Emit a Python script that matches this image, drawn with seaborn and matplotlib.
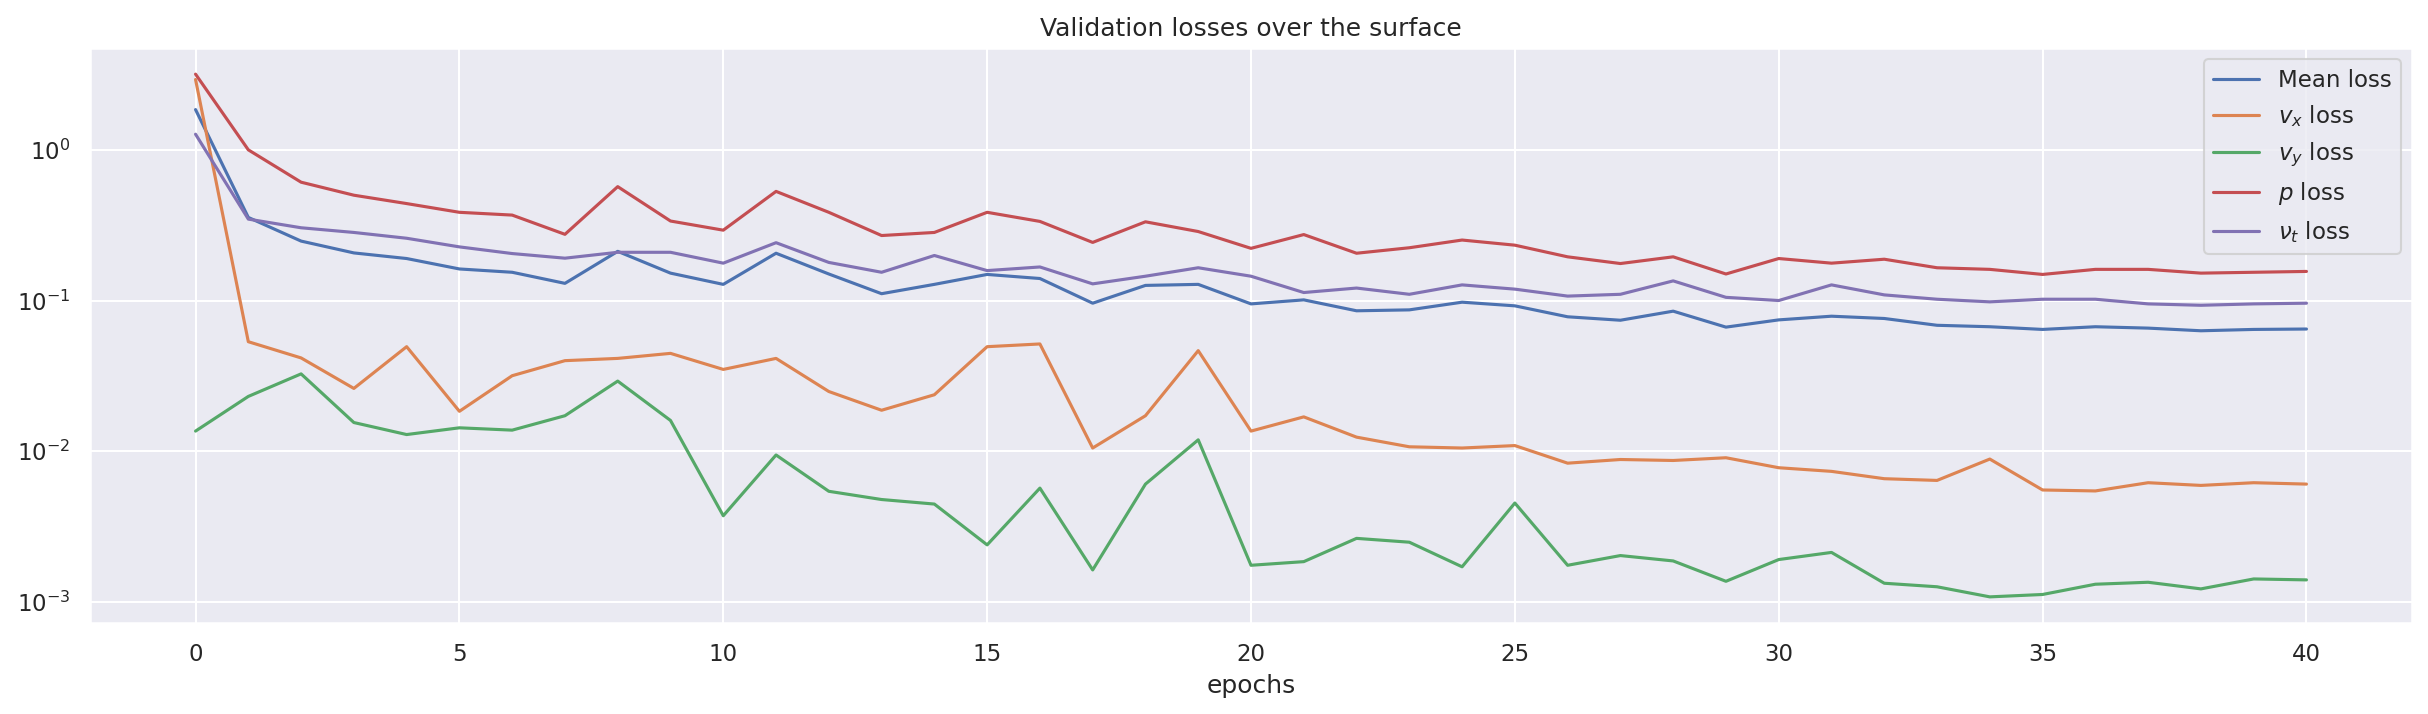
import numpy as np
import pandas as pd
import matplotlib
matplotlib.use("Agg")
import matplotlib.pyplot as plt
import seaborn as sns

epochs = list(range(41))

mean_loss = [1.85, 0.356, 0.248, 0.207, 0.190, 0.162, 0.154, 0.130, 0.212, 0.152,
             0.128, 0.206, 0.150, 0.111, 0.128, 0.149, 0.140, 0.096, 0.126, 0.128,
             0.095, 0.101, 0.0855, 0.0867, 0.0975, 0.0922, 0.078, 0.074, 0.085, 0.0666,
             0.0744, 0.0787, 0.0760, 0.0685, 0.067, 0.0643, 0.067, 0.0656, 0.063, 0.0643,
             0.0647]

vx_loss = [2.93, 0.0533, 0.0416, 0.0261, 0.0494, 0.0184, 0.0317, 0.0399, 0.0413, 0.0446,
           0.0349, 0.0413, 0.0249, 0.0187, 0.0237, 0.0494, 0.0515, 0.0105, 0.0172, 0.0465,
           0.0136, 0.0169, 0.0124, 0.0107, 0.0105, 0.0109, 0.00833, 0.00881, 0.00868, 0.00905,
           0.00777, 0.00735, 0.00657, 0.0064, 0.00887, 0.00553, 0.00545, 0.00618, 0.00593, 0.00618,
           0.00605]

vy_loss = [0.0136, 0.0231, 0.0326, 0.0155, 0.0129, 0.0143, 0.0138, 0.0172, 0.0292, 0.0160,
           0.00373, 0.00944, 0.00542, 0.00478, 0.00446, 0.00239, 0.00569, 0.00163, 0.00605, 0.0119,
           0.00175, 0.00185, 0.00264, 0.00249, 0.00171, 0.00453, 0.00175, 0.00203, 0.00187, 0.00137,
           0.00191, 0.00213, 0.00133, 0.00126, 0.00108, 0.00112, 0.00131, 0.00135, 0.00122, 0.00142,
           0.00140]

p_loss = [3.18, 1.0, 0.61, 0.50, 0.44, 0.385, 0.369, 0.275, 0.57, 0.337,
          0.293, 0.53, 0.385, 0.270, 0.283, 0.385, 0.335, 0.243, 0.333, 0.287,
          0.222, 0.274, 0.206, 0.224, 0.252, 0.233, 0.195, 0.176, 0.195, 0.150,
          0.190, 0.177, 0.188, 0.165, 0.161, 0.149, 0.161, 0.161, 0.152, 0.154,
          0.156]

nut_loss = [1.27, 0.347, 0.304, 0.283, 0.259, 0.227, 0.205, 0.191, 0.209, 0.209,
            0.177, 0.242, 0.179, 0.154, 0.199, 0.158, 0.167, 0.129, 0.145, 0.165,
            0.145, 0.113, 0.121, 0.110, 0.127, 0.119, 0.107, 0.110, 0.135, 0.105,
            0.100, 0.127, 0.109, 0.102, 0.098, 0.102, 0.102, 0.095, 0.093, 0.095,
            0.096]

labels = ["Mean loss", r"$v_x$ loss", r"$v_y$ loss", r"$p$ loss", r"$\nu_t$ loss"]
series = [mean_loss, vx_loss, vy_loss, p_loss, nut_loss]

sns.set_theme(style="darkgrid")

fig = plt.figure(figsize=(2428 / 150, 714 / 150), dpi=150)
ax = fig.add_axes([90 / 2428, 1 - 623 / 714, (2412 - 90) / 2428, (623 - 48) / 714])

for lab, vals in zip(labels, series):
    sns.lineplot(x=epochs, y=vals, label=lab, ax=ax)

ax.set_yscale("log")
ax.set_xlabel("epochs")
ax.set_title("Validation losses over the surface")
ax.legend(loc="upper right")

fig.savefig("out.png", dpi=150)
